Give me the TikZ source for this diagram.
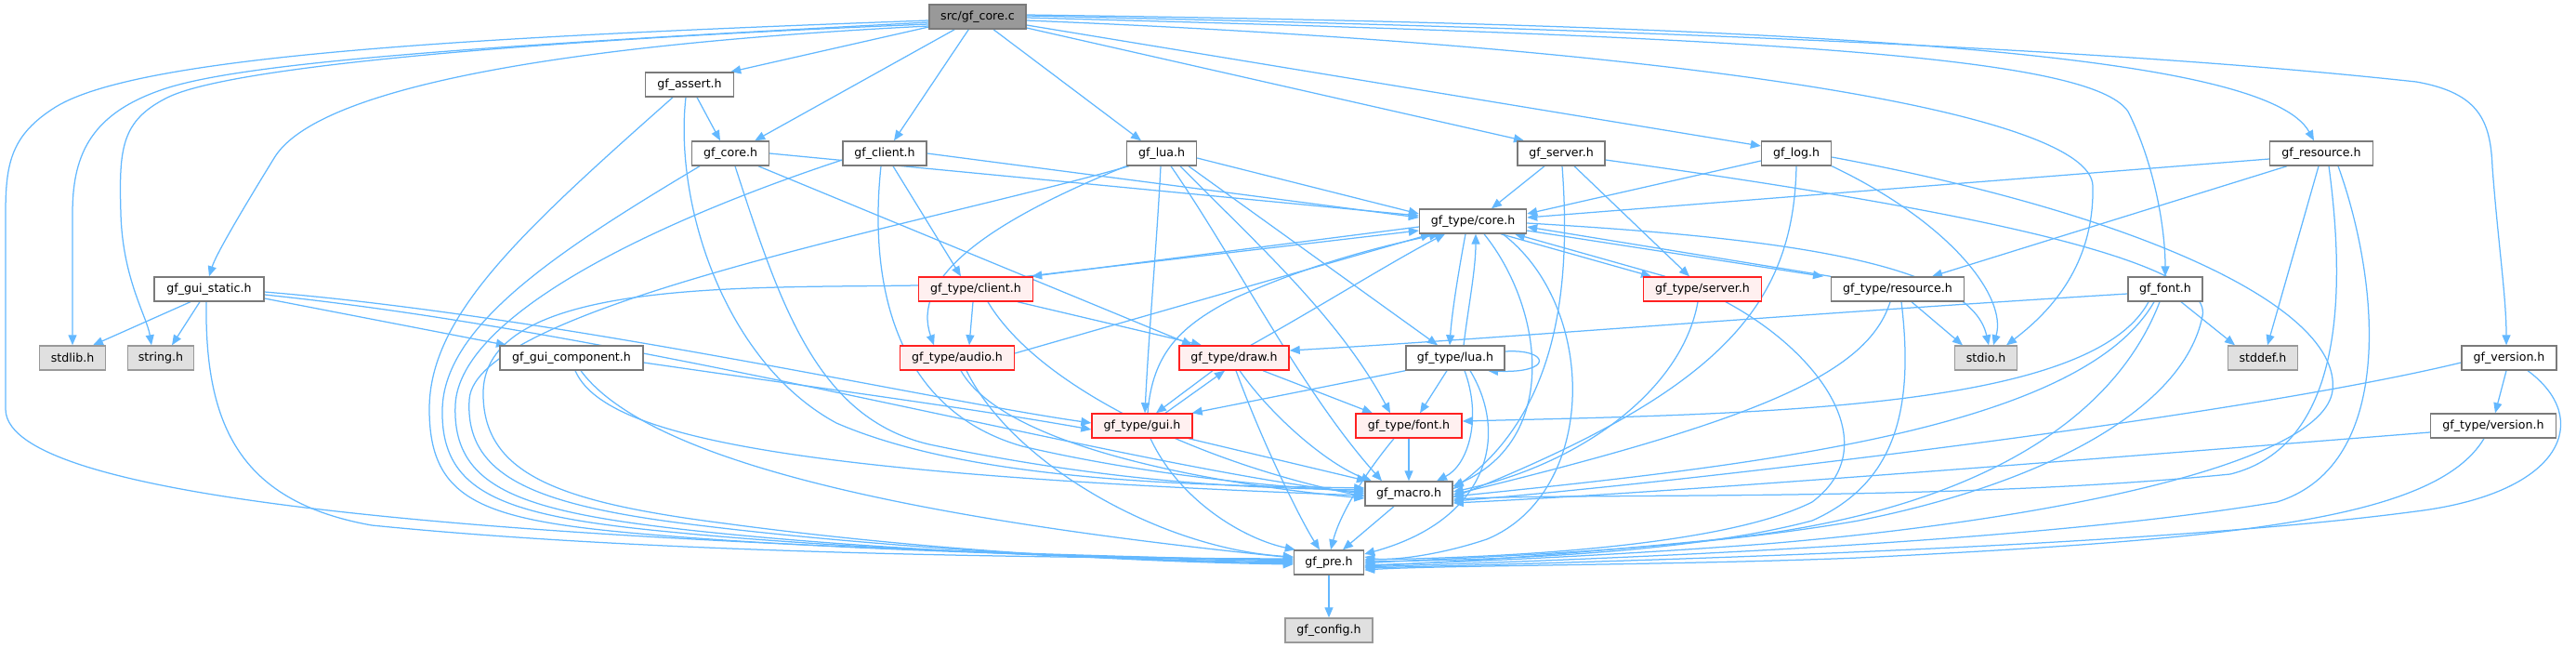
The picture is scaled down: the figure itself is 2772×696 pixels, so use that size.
\documentclass[tikz,border=0pt]{standalone}
\usepackage{fontspec}
\setmainfont{DejaVu Sans}
\usetikzlibrary{arrows.meta}
\definecolor{edgec}{HTML}{63B8FF}
\definecolor{nbord}{HTML}{7A7A7A}
\definecolor{rootfill}{HTML}{999999}
\definecolor{sysfill}{HTML}{E0E0E0}
\definecolor{sysbord}{HTML}{999999}
\definecolor{redfill}{HTML}{FFF0F0}
\definecolor{redbord}{HTML}{FF2020}
\pgfdeclarelayer{bg}
\pgfsetlayers{bg,main}
\tikzset{
  nbase/.style={draw, line width=1.4pt, minimum height=26pt, inner sep=0pt, font=\fontsize{12.6}{15}\selectfont, text=black},
  plain/.style={nbase, draw=nbord, fill=white},
  rootbox/.style={nbase, draw=nbord, fill=rootfill},
  sysbox/.style={nbase, draw=sysbord, fill=sysfill},
  redbox/.style={nbase, draw=redbord, fill=redfill},
  dep/.style={draw=edgec, line width=1.25pt, -{Triangle[length=11pt,width=9pt]}},
}
\begin{document}
\begin{tikzpicture}[x=1pt,y=-1pt]
\useasboundingbox (0,0) rectangle (2772,696);
\node[rootbox, minimum width=104pt] (root) at (1052,18) {src/gf\_core.c};
\node[plain, minimum width=95pt] (assert) at (742,91) {gf\_assert.h};
\node[plain, minimum width=83pt] (core) at (786,165) {gf\_core.h};
\node[plain, minimum width=90pt] (client) at (952,165) {gf\_client.h};
\node[plain, minimum width=75pt] (lua) at (1250,165) {gf\_lua.h};
\node[plain, minimum width=94pt] (server) at (1680,165) {gf\_server.h};
\node[plain, minimum width=75pt] (log) at (1933,165) {gf\_log.h};
\node[plain, minimum width=111pt] (resource) at (2498,165) {gf\_resource.h};
\node[plain, minimum width=115pt] (tcore) at (1585,238) {gf\_type/core.h};
\node[plain, minimum width=118pt] (guistatic) at (225,311) {gf\_gui\_static.h};
\node[redbox, minimum width=123pt] (tclient) at (1050,311) {gf\_type/client.h};
\node[redbox, minimum width=127pt] (tserver) at (1832,311) {gf\_type/server.h};
\node[plain, minimum width=143pt] (tres) at (2042,311) {gf\_type/resource.h};
\node[plain, minimum width=80pt] (font) at (2330,311) {gf\_font.h};
\node[sysbox, minimum width=71pt] (stdlib) at (78,385) {stdlib.h};
\node[sysbox, minimum width=71pt] (string) at (173,385) {string.h};
\node[plain, minimum width=154pt] (guicomp) at (615,385) {gf\_gui\_component.h};
\node[redbox, minimum width=123pt] (taudio) at (1030,385) {gf\_type/audio.h};
\node[redbox, minimum width=118pt] (tdraw) at (1328,385) {gf\_type/draw.h};
\node[plain, minimum width=106pt] (tlua) at (1566,385) {gf\_type/lua.h};
\node[sysbox, minimum width=67pt] (stdio) at (2137,385) {stdio.h};
\node[sysbox, minimum width=75pt] (stddef) at (2435,385) {stddef.h};
\node[plain, minimum width=102pt] (version) at (2700,385) {gf\_version.h};
\node[redbox, minimum width=108pt] (tgui) at (1229,458) {gf\_type/gui.h};
\node[redbox, minimum width=114pt] (tfont) at (1516,458) {gf\_type/font.h};
\node[plain, minimum width=135pt] (tversion) at (2683,458) {gf\_type/version.h};
\node[plain, minimum width=94pt] (macro) at (1516,531) {gf\_macro.h};
\node[plain, minimum width=75pt] (pre) at (1430,605) {gf\_pre.h};
\node[sysbox, minimum width=94pt] (config) at (1430,678) {gf\_config.h};
\begin{pgfonlayer}{bg}
% root
\draw[dep] ([yshift=-4pt]root.west) .. controls (500,40) and (150,60) .. (60,115) .. controls (12,145) and (6,175) .. (6,230) -- (6,440) .. controls (6,545) and (600,585) .. ([yshift=2pt]pre.west);
\draw[dep] ([yshift=-6pt]root.west) .. controls (500,50) and (250,68) .. (170,98) .. controls (95,125) and (78,170) .. (78,230) -- (stdlib.north);
\draw[dep] ([yshift=-8pt]root.west) .. controls (600,42) and (250,70) .. (180,105) .. controls (130,130) and (128,160) .. (130,230) .. controls (132,300) and (158,340) .. ([xshift=-10pt]string.north);
\draw[dep] ([yshift=-10pt]root.west) .. controls (600,48) and (340,95) .. (295,170) .. controls (255,235) and (232,275) .. (guistatic.north);
\draw[dep] ([yshift=-11pt]root.west) -- ([xshift=-4pt]assert.north east);
\draw[dep] ([xshift=28pt]root.south west) -- ([xshift=-16pt]core.north east);
\draw[dep] ([xshift=43pt]root.south west) -- ([xshift=10pt]client.north);
\draw[dep] ([xshift=17pt]root.south) -- ([xshift=-22pt]lua.north);
\draw[dep] ([yshift=-12pt]root.east) -- ([xshift=-40pt]server.north);
\draw[dep] ([yshift=-9pt]root.east) -- ([yshift=8pt]log.west);
\draw[dep] ([yshift=2pt]root.east) .. controls (2000,28) and (2440,60) .. ([xshift=-8pt]resource.north);
\draw[dep] ([yshift=1pt]root.east) .. controls (2100,38) and (2450,72) .. (2600,88) .. controls (2668,100) and (2680,130) .. (2682,180) .. controls (2688,260) and (2697,320) .. ([xshift=-3pt]version.north);
\draw[dep] ([yshift=-1pt]root.east) .. controls (1900,40) and (2250,60) .. (2290,120) .. controls (2320,180) and (2330,250) .. (font.north);
\draw[dep] ([yshift=-4pt]root.east) .. controls (1800,50) and (2250,120) .. (2252,200) .. controls (2254,290) and (2200,340) .. ([xshift=22pt]stdio.north);
% assert
\draw[dep] ([xshift=8pt]assert.south) -- ([xshift=-11pt]core.north);
\draw[dep] ([xshift=-4pt]assert.south) .. controls (725,220) and (780,390) .. (900,455) .. controls (1050,520) and (1300,522) .. ([yshift=6pt]macro.west);
\draw[dep] ([xshift=-18pt]assert.south) .. controls (560,250) and (462,340) .. (462,440) .. controls (462,540) and (520,560) .. (700,575) .. controls (900,592) and (1200,600) .. ([yshift=3pt]pre.west);
% core
\draw[dep] (core.east) -- ([yshift=6pt]tcore.west);
\draw[dep] ([xshift=-33pt]core.south) .. controls (600,270) and (478,350) .. (476,440) .. controls (474,530) and (540,555) .. (720,572) .. controls (920,592) and (1200,600) .. ([yshift=1pt]pre.west);
\draw[dep] ([xshift=5pt]core.south) .. controls (840,330) and (880,450) .. (1000,478) .. controls (1200,520) and (1350,525) .. ([yshift=4pt]macro.west);
\draw[dep] ([xshift=30pt]core.south) -- ([xshift=-45pt]tdraw.north);
% client
\draw[dep] (client.east) -- ([yshift=4pt]tcore.west);
\draw[dep] ([xshift=9pt]client.south) -- ([xshift=-16pt]tclient.north);
\draw[dep] ([xshift=-4pt]client.south) .. controls (935,300) and (960,440) .. (1100,480) .. controls (1250,515) and (1400,525) .. ([yshift=2pt]macro.west);
\draw[dep] ([yshift=-7pt]client.west) .. controls (700,240) and (495,340) .. (490,435) .. controls (486,525) and (560,550) .. (740,570) .. controls (940,592) and (1200,602) .. (pre.west);
% lua
\draw[dep] ([yshift=-5pt]lua.east) -- ([yshift=8pt]tcore.west);
\draw[dep] (lua.south west) .. controls (1060,240) and (980,300) .. ([xshift=-25pt]taudio.north);
\draw[dep] ([xshift=3pt]lua.south west) .. controls (1000,240) and (510,330) .. (505,430) .. controls (500,515) and (580,545) .. (760,566) .. controls (960,590) and (1200,603) .. ([yshift=-1pt]pre.west);
\draw[dep] ([xshift=-1pt]lua.south) .. controls (1245,260) and (1236,360) .. ([xshift=3pt]tgui.north);
\draw[dep] ([xshift=20pt]lua.south) .. controls (1350,260) and (1440,340) .. ([xshift=-20pt]tfont.north);
\draw[dep] ([xshift=29pt]lua.south) -- ([xshift=-19pt]tlua.north);
\draw[dep] ([xshift=10pt]lua.south) .. controls (1330,280) and (1400,420) .. ([xshift=-29pt]macro.north);
% tcore
\draw[dep] ([yshift=-6pt]tcore.west) -- ([xshift=-2pt]tclient.north east);
\draw[dep] ([xshift=-8pt]tclient.north east) -- ([yshift=-10pt]tcore.west);
\draw[dep] ([xshift=30pt]tcore.south) -- ([xshift=-55pt]tserver.north);
\draw[dep] ([xshift=-40pt]tserver.north) -- ([xshift=45pt]tcore.south);
\draw[dep] ([yshift=-10pt]tcore.east) -- ([xshift=-80pt]tres.north);
\draw[dep] ([xshift=-72pt]tres.north) -- ([yshift=-6pt]tcore.east);
\draw[dep] ([yshift=-2pt]tcore.east) .. controls (1900,255) and (2120,280) .. ([xshift=3pt]stdio.north);
\draw[dep] ([xshift=-8pt]tcore.south) .. controls (1568,300) and (1562,340) .. ([xshift=-6pt]tlua.north);
\draw[dep] ([xshift=9pt]tlua.north) .. controls (1580,330) and (1588,290) .. ([xshift=3pt]tcore.south);
\draw[dep] ([xshift=12pt]tcore.south) .. controls (1660,330) and (1680,470) .. ([yshift=8pt]macro.east);
\draw[dep] ([xshift=32pt]tcore.south) .. controls (1720,330) and (1720,530) .. (1600,580) .. controls (1540,600) and (1490,603) .. ([yshift=6pt]pre.east);
% tclient
\draw[dep] ([xshift=-3pt]tclient.south) -- ([xshift=13pt]taudio.north);
\draw[dep] ([xshift=45pt]tclient.south) -- ([xshift=-35pt]tdraw.north);
\draw[dep] ([xshift=13pt]tclient.south) .. controls (1120,420) and (1300,500) .. ([yshift=-3pt]macro.west);
\draw[dep] ([yshift=4pt]tclient.west) .. controls (800,310) and (525,300) .. (520,420) .. controls (518,510) and (600,540) .. (780,563) .. controls (980,590) and (1200,604) .. ([yshift=-2pt]pre.west);
% tserver
\draw[dep] ([xshift=-5pt]tserver.south) .. controls (1810,420) and (1700,500) .. ([yshift=2pt]macro.east);
\draw[dep] ([xshift=25pt]tserver.south) .. controls (1960,380) and (2030,480) .. (1950,540) .. controls (1850,590) and (1600,600) .. ([yshift=3pt]pre.east);
% tres
\draw[dep] ([xshift=15pt]tres.south) -- ([xshift=-25pt]stdio.north);
\draw[dep] ([xshift=-8pt]tres.south) .. controls (2010,400) and (1900,450) .. ([yshift=-1pt]macro.east);
\draw[dep] ([xshift=4pt]tres.south) .. controls (2060,440) and (2040,520) .. (1950,560) .. controls (1800,600) and (1550,603) .. ([yshift=1pt]pre.east);
% server
\draw[dep] ([xshift=-18pt]server.south) -- ([xshift=20pt]tcore.north);
\draw[dep] ([xshift=14pt]server.south) -- ([xshift=-14pt]tserver.north);
\draw[dep] ([xshift=1pt]server.south) .. controls (1690,300) and (1680,440) .. ([yshift=5pt]macro.east);
\draw[dep] ([yshift=-7pt]server.east) .. controls (2000,210) and (2385,270) .. (2370,340) .. controls (2350,440) and (2200,520) .. (2000,560) .. controls (1800,595) and (1550,600) .. ([yshift=-1pt]pre.east);
% log
\draw[dep] ([yshift=-8pt]log.west) -- ([yshift=8pt]tcore.east);
\draw[dep] (log.south) .. controls (1930,330) and (1850,420) .. ([yshift=-4pt]macro.east);
\draw[dep] (log.south east) .. controls (2100,240) and (2160,320) .. ([xshift=8pt]stdio.north);
\draw[dep] ([yshift=-4pt]log.east) .. controls (2300,230) and (2520,330) .. (2510,420) .. controls (2500,500) and (2200,560) .. (1900,585) .. controls (1700,600) and (1550,605) .. ([yshift=-3pt]pre.east);
% resource
\draw[dep] ([yshift=-6pt]resource.west) -- ([yshift=4pt]tcore.east);
\draw[dep] ([xshift=-37pt]resource.south) -- ([xshift=37pt]tres.north);
\draw[dep] ([xshift=-3pt]resource.south) -- ([xshift=5pt]stddef.north);
\draw[dep] ([xshift=8pt]resource.south) .. controls (2525,320) and (2520,480) .. (2400,510) .. controls (2100,540) and (1700,530) .. ([yshift=-6pt]macro.east);
\draw[dep] ([xshift=18pt]resource.south) .. controls (2560,300) and (2580,500) .. (2450,540) .. controls (2150,590) and (1600,605) .. ([yshift=-5pt]pre.east);
% font
\draw[dep] ([yshift=-5pt]font.west) .. controls (1900,340) and (1600,365) .. ([yshift=8pt]tdraw.east);
\draw[dep] ([xshift=17pt]font.south) -- ([xshift=-30pt]stddef.north);
\draw[dep] ([xshift=-18pt]font.south) .. controls (2250,440) and (1900,445) .. ([yshift=5pt]tfont.east);
\draw[dep] ([xshift=-12pt]font.south) .. controls (2240,460) and (1900,500) .. ([yshift=-3pt]macro.east);
\draw[dep] ([xshift=-6pt]font.south) .. controls (2260,490) and (2050,560) .. (1850,580) .. controls (1650,600) and (1550,605) .. ([yshift=-4pt]pre.east);
% version
\draw[dep] ([xshift=-3pt]version.south) -- ([xshift=2pt]tversion.north);
\draw[dep] ([yshift=-5pt]version.west) .. controls (2400,450) and (1800,520) .. ([yshift=-8pt]macro.east);
\draw[dep] ([xshift=20pt]version.south) .. controls (2790,450) and (2760,530) .. (2600,550) .. controls (2300,590) and (1700,605) .. ([yshift=-6pt]pre.east);
% tversion
\draw[dep] ([yshift=-7pt]tversion.west) .. controls (2300,490) and (1800,530) .. ([yshift=-10pt]macro.east);
\draw[dep] ([xshift=-10pt]tversion.south) .. controls (2620,560) and (2400,580) .. (2000,600) .. controls (1800,608) and (1550,608) .. ([yshift=-8pt]pre.east);
% guistatic
\draw[dep] ([xshift=-20pt]guistatic.south) -- ([xshift=22pt]stdlib.north);
\draw[dep] ([xshift=-10pt]guistatic.south) -- ([xshift=12pt]string.north);
\draw[dep] ([xshift=-3pt]guistatic.south) .. controls (220,460) and (260,540) .. (400,565) .. controls (700,595) and (1100,600) .. ([yshift=4pt]pre.west);
\draw[dep] ([yshift=-10pt]guistatic.east) -- ([xshift=-70pt]guicomp.north);
\draw[dep] ([yshift=-3pt]guistatic.east) .. controls (600,340) and (1000,430) .. ([yshift=3pt]tgui.west);
\draw[dep] ([yshift=-6pt]guistatic.east) .. controls (700,360) and (1200,500) .. (macro.west);
% guicomp
\draw[dep] ([yshift=-5pt]guicomp.east) .. controls (900,420) and (1050,440) .. ([yshift=-4pt]tgui.west);
\draw[dep] ([xshift=4pt]guicomp.south) .. controls (650,470) and (850,510) .. ([yshift=-2pt]macro.west);
\draw[dep] ([xshift=10pt]guicomp.south) .. controls (700,500) and (1000,560) .. ([yshift=5pt]pre.west);
% taudio
\draw[dep] ([yshift=5pt]taudio.east) -- ([xshift=-45pt]tcore.south);
\draw[dep] ([xshift=4pt]taudio.south) .. controls (1080,480) and (1300,520) .. ([yshift=-5pt]macro.west);
\draw[dep] ([xshift=10pt]taudio.south) .. controls (1090,500) and (1250,590) .. ([yshift=6pt]pre.west);
% tdraw
\draw[dep] ([xshift=-23pt]tdraw.south) -- ([xshift=15pt]tgui.north);
\draw[dep] ([xshift=25pt]tgui.north) -- ([xshift=-10pt]tdraw.south);
\draw[dep] ([xshift=31pt]tdraw.south) -- ([xshift=-39pt]tfont.north);
\draw[dep] ([xshift=6pt]tdraw.south) .. controls (1370,450) and (1430,500) .. ([xshift=-40pt]macro.north);
\draw[dep] ([xshift=2pt]tdraw.south) .. controls (1360,480) and (1400,560) .. ([xshift=-10pt]pre.north);
\draw[dep] ([xshift=18pt]tdraw.north) .. controls (1420,330) and (1500,280) .. ([xshift=-30pt]tcore.south);
% tgui
\draw[dep] ([xshift=6pt]tgui.north) .. controls (1240,380) and (1270,350) .. (1330,320) .. controls (1420,280) and (1500,262) .. ([xshift=-36pt]tcore.south);
\draw[dep] ([xshift=50pt]tgui.south) -- ([xshift=-45pt]macro.north);
\draw[dep] ([xshift=9pt]tgui.south) .. controls (1270,540) and (1340,580) .. ([xshift=2pt]pre.north west);
% tfont
\draw[dep] (tfont.south) -- (macro.north);
\draw[dep] ([xshift=-16pt]tfont.south) .. controls (1460,520) and (1440,560) .. ([xshift=2pt]pre.north);
% tlua
\draw[dep] (tlua.south west) -- ([xshift=-1pt]tgui.north east);
\draw[dep] ([xshift=-9pt]tlua.south) -- ([xshift=12pt]tfont.north);
\draw[dep] ([xshift=10pt]tlua.south) .. controls (1595,450) and (1580,500) .. ([xshift=30pt]macro.north);
\draw[dep] ([xshift=16pt]tlua.south) .. controls (1625,470) and (1600,560) .. ([yshift=9pt]pre.east);
\draw[dep] ([yshift=7pt]tlua.east) .. controls (1668,375) and (1672,402) .. ([xshift=35pt]tlua.south);
% macro, pre
\draw[dep] ([xshift=-16pt]macro.south) -- ([xshift=15pt]pre.north);
\draw[dep] (pre.south) -- (config.north);
\end{pgfonlayer}
\end{tikzpicture}
\end{document}
